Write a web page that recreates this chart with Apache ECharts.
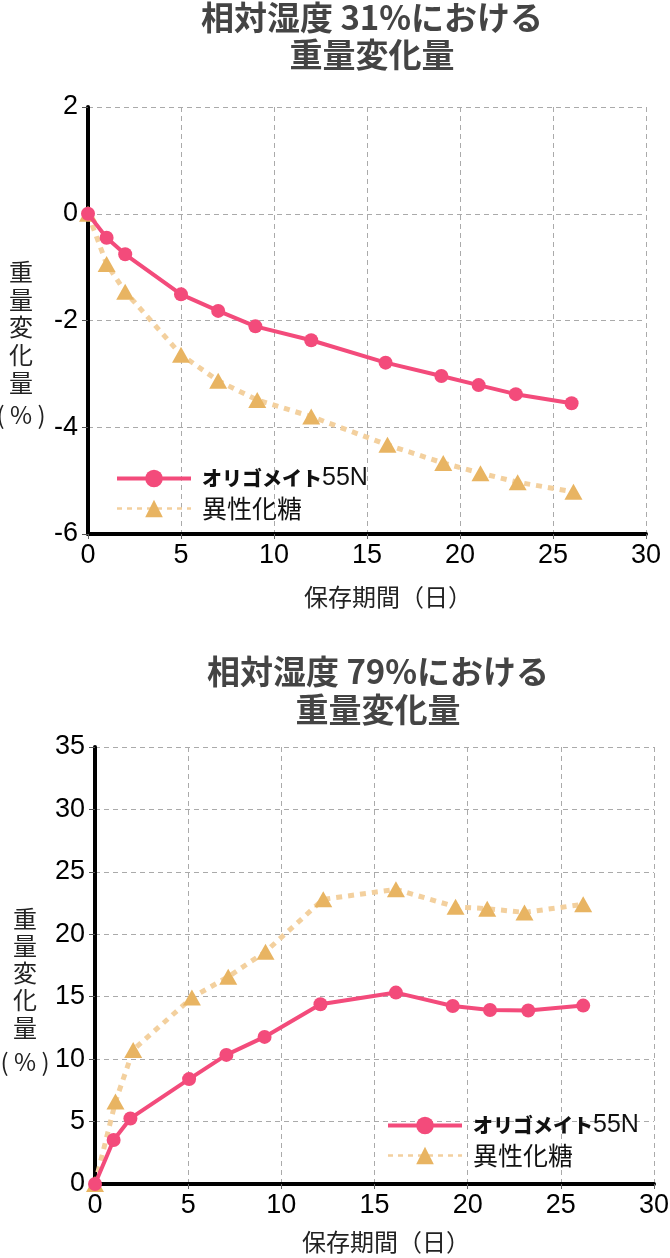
<!DOCTYPE html>
<html>
<head>
<meta charset="utf-8">
<script src="https://cdn.jsdelivr.net/npm/echarts@6/dist/echarts.min.js"></script>
<style>
html,body{margin:0;padding:0;background:#fff;}
#c{width:670px;height:1258px;}
</style>
</head>
<body>
<div id="c"></div>
<script>
// ---- data ----
const seriesNames = ['オリゴメイト55N', '異性化糖'];
const titles31 = ['相対湿度 31%における', '重量変化量'];
const titles79 = ['相対湿度 79%における', '重量変化量'];
const xAxisName = '保存期間（日）';
const yAxisNameChars = ['重', '量', '変', '化', '量', '( % )'];

// RH 31%
const days31 = [0, 1, 2, 5, 7, 9, 12, 16, 19, 21, 23, 26];
const oligo31 = [0, -0.45, -0.76, -1.51, -1.82, -2.11, -2.37, -2.79, -3.04, -3.21, -3.38, -3.55];
const hfcs31Days = [0, 1, 2, 5, 7, 9.1, 12, 16.1, 19.1, 21.1, 23.1, 26.1];
const hfcs31 = [0, -0.94, -1.46, -2.64, -3.13, -3.49, -3.80, -4.33, -4.67, -4.86, -5.03, -5.21];

// RH 79%
const days79 = [0, 1, 1.9, 5.05, 7.05, 9.1, 12.1, 16.15, 19.2, 21.2, 23.25, 26.2];
const oligo79 = [0, 3.52, 5.25, 8.4, 10.34, 11.78, 14.4, 15.33, 14.26, 13.94, 13.89, 14.29];
const hfcs79Days = [0, 1.1, 2.05, 5.2, 7.15, 9.15, 12.25, 16.15, 19.35, 21.05, 23.05, 26.2];
const hfcs79 = [0, 6.6, 10.74, 14.93, 16.6, 18.6, 22.8, 23.6, 22.2, 22.05, 21.75, 22.4];

// ---- styles ----
const PINK = '#f34b7b';
const ORANGE_MARK = '#e8b462';
const ORANGE_LINE = '#f3d09e';
const CJK = '"Noto Sans CJK JP", sans-serif';
const LAT = '"Liberation Sans", Arial, sans-serif';

function pairs(xs, ys) { return xs.map((x, i) => [x, ys[i]]); }

function xAxisCfg(gridIndex) {
  return {
    gridIndex, type: 'value', min: 0, max: 30, interval: 5,
    axisLine: { show: true, onZero: false, lineStyle: { color: '#000', width: 4 } },
    axisTick: { show: true, inside: false, length: 5, lineStyle: { color: '#666', width: 1 } },
    axisLabel: { fontFamily: LAT, fontSize: 27, color: '#000', margin: 8 },
    splitLine: { show: true, lineStyle: { color: '#aaa', width: 1, type: [5, 4] } }
  };
}
function yAxisCfg(gridIndex, min, max, interval) {
  return {
    gridIndex, type: 'value', min, max, interval,
    axisLine: { show: true, onZero: false, lineStyle: { color: '#000', width: 4 } },
    axisTick: { show: true, inside: false, length: 6, lineStyle: { color: '#555', width: 1 } },
    axisLabel: { fontFamily: LAT, fontSize: 27, color: '#000', margin: 10 },
    splitLine: { show: true, lineStyle: { color: '#aaa', width: 1, type: [5, 4] } }
  };
}
function oligoSeries(idx, data) {
  return {
    name: seriesNames[0], type: 'line', xAxisIndex: idx, yAxisIndex: idx,
    data, symbol: 'circle', symbolSize: 14, z: 4, clip: false,
    itemStyle: { color: PINK }, lineStyle: { color: PINK, width: 4 }
  };
}
function hfcsSeries(idx, data) {
  return {
    name: seriesNames[1], type: 'line', xAxisIndex: idx, yAxisIndex: idx,
    data, symbol: 'triangle', symbolSize: [18, 16], z: 3, clip: false,
    itemStyle: { color: ORANGE_MARK }, lineStyle: { color: ORANGE_LINE, width: 5, type: [6, 6] }
  };
}
function legendCfg(left, top) {
  return {
    orient: 'vertical', left, top, itemWidth: 74, itemHeight: 22, itemGap: 5,
    selectedMode: false,
    data: [
      { name: seriesNames[0], lineStyle: { color: PINK, width: 4, type: 'solid' } },
      { name: seriesNames[1], lineStyle: { color: ORANGE_LINE, width: 2.5, type: [5, 5] } }
    ],
    formatter: n => n === seriesNames[0] ? '{b|オリゴメイト}{r|55N}' : '{c|' + n + '}',
    textStyle: {
      rich: {
        b: { fontFamily: CJK, fontWeight: 900, fontSize: 20, color: '#111', lineHeight: 22, padding: [0, 0, 0, 6] },
        r: { fontFamily: LAT, fontSize: 25, color: '#111', lineHeight: 22 },
        c: { fontFamily: CJK, fontSize: 25, color: '#111', lineHeight: 22, padding: [0, 0, 0, 6] }
      }
    }
  };
}
function titleGraphics(lines, cx, y1, y2) {
  return [lines[0], lines[1]].map((t, i) => ({
    type: 'text', x: cx, y: i === 0 ? y1 : y2, silent: true,
    style: { text: t, fill: '#444', fontFamily: CJK, fontWeight: 'bold', fontSize: 33,
             textAlign: 'center', textVerticalAlign: 'middle' }
  }));
}
function yNameGraphics(cx, ys) {
  return yAxisNameChars.map((t, i) => ({
    type: 'text', x: cx, y: ys[i], silent: true,
    style: { text: t, fill: '#222', fontFamily: CJK, fontSize: 24,
             textAlign: 'center', textVerticalAlign: 'middle' }
  }));
}
function xNameGraphic(cx, y) {
  return {
    type: 'text', x: cx, y, silent: true,
    style: { text: xAxisName, fill: '#222', fontFamily: CJK, fontSize: 24,
             textAlign: 'center', textVerticalAlign: 'middle' }
  };
}

const chart = echarts.init(document.getElementById('c'), null, { renderer: 'canvas' });
chart.setOption({
  backgroundColor: '#fff',
  animation: false,
  grid: [
    { left: 88, right: 24, top: 107, bottom: 724, containLabel: false, outerBoundsMode: 'none' },
    { left: 95, right: 16, top: 747, bottom: 74, containLabel: false, outerBoundsMode: 'none' }
  ],
  xAxis: [xAxisCfg(0), xAxisCfg(1)],
  yAxis: [yAxisCfg(0, -6, 2, 2), yAxisCfg(1, 0, 35, 5)],
  legend: [legendCfg(110, 461), legendCfg(381, 1108)],
  series: [
    oligoSeries(0, pairs(days31, oligo31)),
    hfcsSeries(0, pairs(hfcs31Days, hfcs31)),
    oligoSeries(1, pairs(days79, oligo79)),
    hfcsSeries(1, pairs(hfcs79Days, hfcs79))
  ],
  graphic: [
    ...titleGraphics(titles31, 372, 17, 54),
    ...titleGraphics(titles79, 378, 671, 709),
    ...yNameGraphics(21, [272, 300, 327, 355, 383, 415]),
    ...yNameGraphics(25, [919, 946, 973, 1000, 1028, 1062]),
    xNameGraphic(388, 597),
    xNameGraphic(386, 1242)
  ]
});
</script>
</body>
</html>
